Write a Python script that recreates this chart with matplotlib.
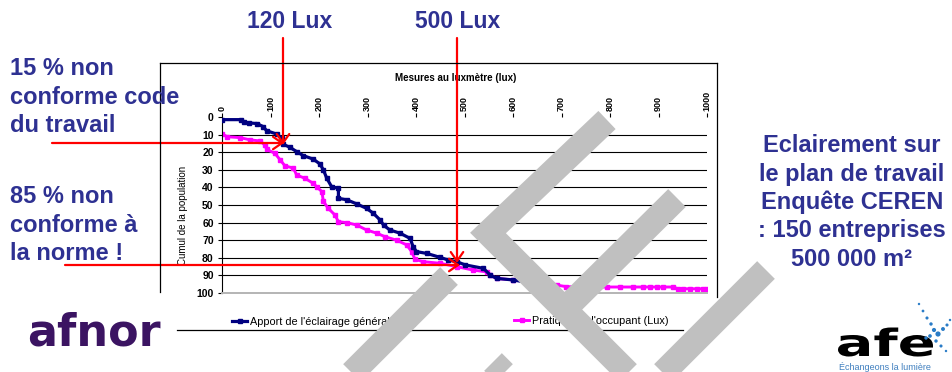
import matplotlib

matplotlib.use("Agg")
import matplotlib.pyplot as plt
from matplotlib.font_manager import FontProperties
from matplotlib.patches import FancyArrowPatch, PathPatch
from matplotlib.textpath import TextPath
from matplotlib.transforms import Affine2D

# Survey data: illuminance (lux) vs. cumulative share of the population (%)
BLUE_LUX = [0, 40, 46, 56, 72, 85, 92, 113, 123, 126, 140, 154, 168, 188, 202,
            209, 216, 226, 240, 240, 257, 278, 298, 312, 326, 333, 346, 367,
            388, 394, 401, 422, 449, 467, 484, 501, 539, 553, 566, 601, 630]
BLUE_PCT = [1.5, 1.5, 2.8, 3.4, 3.7, 5.5, 7.8, 9.7, 12.0, 15.5, 17.2, 19.7, 22.0,
            23.9, 26.7, 30.0, 34.8, 39.6, 40.5, 46.2, 47.0, 49.4, 51.9, 54.7,
            58.5, 61.4, 64.2, 66.0, 69.0, 73.7, 76.5, 77.5, 79.7, 81.3, 82.2,
            84.0, 86.0, 89.8, 91.7, 92.6, 94.0]

MAG_LUX = [0, 10, 37, 58, 78, 89, 92, 109, 120, 130, 147, 154, 171, 188, 195,
           206, 209, 219, 233, 240, 257, 278, 298, 319, 336, 360, 381, 391, 398,
           415, 449, 484, 518, 546, 553, 566, 601, 630, 660, 690, 710, 745, 793,
           820, 848, 868, 882, 897, 910, 930, 940, 951, 965, 979, 992, 1000]
MAG_PCT = [9.5, 11.2, 11.7, 13.0, 13.6, 16.0, 18.4, 20.6, 24.4, 27.8, 29.0, 33.0,
           34.8, 37.7, 39.6, 42.4, 48.0, 51.9, 55.7, 59.5, 60.0, 61.4, 64.2,
           66.0, 68.0, 70.0, 72.7, 76.5, 80.9, 82.2, 83.1, 85.0, 87.0, 88.0,
           89.8, 91.7, 92.6, 93.5, 94.5, 95.5, 96.4, 96.6, 96.6, 96.6, 96.6,
           96.6, 96.6, 96.6, 96.6, 96.6, 97.6, 97.6, 97.6, 97.6, 97.6, 97.6]

SERIES_NAMES = ["Apport de l'éclairage général (Lux)", "Pratique de l'occupant (Lux)"]
X_TICKS = list(range(0, 1001, 100))
Y_TICKS = list(range(0, 101, 10))

LEFT_NOTE_TOP = ["15 % non", "conforme code", "du travail"]
LEFT_NOTE_BOTTOM = ["85 % non", "conforme à", "la norme !"]
RIGHT_NOTE = ["Eclairement sur", "le plan de travail", "Enquête CEREN",
              ": 150 entreprises", "500 000 m²"]
THRESHOLD_LABELS = ["120 Lux", "500 Lux"]

W, H = 953, 372
TEXT_BLUE = "#2e3192"

plt.rcParams["font.family"] = ["Liberation Sans", "DejaVu Sans"]

fig = plt.figure(figsize=(W / 100, H / 100), dpi=100)
fig.patch.set_facecolor("white")


def px_box(left, top, right, bottom):
    """Axes rectangle from pixel edges (origin top-left)."""
    return [left / W, 1 - bottom / H, (right - left) / W, (bottom - top) / H]


# --- Excel-style chart -------------------------------------------------------
ax = fig.add_axes(px_box(222, 117, 707, 293))
blue_line, = ax.plot(BLUE_LUX, BLUE_PCT, color="#000080", lw=2.3, marker="s",
                     ms=2.2, zorder=3)
mag_line, = ax.plot(MAG_LUX, MAG_PCT, color="#ff00ff", lw=2.1, marker="s",
                    ms=2.6, zorder=2)

ax.set_xlim(0, 1000)
ax.set_ylim(100, 0)
ax.set_xticks(X_TICKS)
ax.set_yticks(Y_TICKS)
ax.xaxis.tick_top()
ax.tick_params(axis="x", labelrotation=90, length=3, width=0.8, pad=1.5,
               labelsize=6.5)
ax.tick_params(axis="y", length=3, width=0.8, pad=3, labelsize=7.5)
for lbl in ax.get_xticklabels() + ax.get_yticklabels():
    lbl.set_fontweight("bold")

ax.yaxis.grid(True, color="black", lw=0.8)
grid = ax.yaxis.get_gridlines()
grid[0].set_visible(False)
grid[-1].set_visible(False)
ax.set_axisbelow(True)

ax.spines["top"].set_visible(False)
ax.spines["right"].set_visible(False)
ax.spines["left"].set_linewidth(0.8)
ax.spines["bottom"].set_color("#b4b4b4")
ax.spines["bottom"].set_linewidth(1.4)

ax.set_ylabel("Cumul de la population", fontsize=7)
ax.yaxis.set_label_coords(-0.07, 0.44)
ax.set_xlabel("Mesures au luxmètre (lux)", fontsize=7, fontweight="bold")
ax.xaxis.set_label_position("top")
ax.xaxis.set_label_coords(0.482, 1.205)

leg_kw = dict(loc="center left", bbox_transform=fig.transFigure, frameon=False,
              fontsize=7.8, handlelength=1.4, handletextpad=0.3, borderpad=0,
              borderaxespad=0)
leg1 = ax.legend([blue_line], [SERIES_NAMES[0]],
                 bbox_to_anchor=(232 / W, 1 - 322 / H), **leg_kw)
ax.add_artist(leg1)
ax.legend([mag_line], [SERIES_NAMES[1]],
          bbox_to_anchor=(514 / W, 1 - 321 / H), **leg_kw)

# --- slide layer in pixel coordinates ----------------------------------------
ov = fig.add_axes([0, 0, 1, 1])
ov.set_xlim(0, W)
ov.set_ylim(H, 0)
ov.axis("off")
ov.set_zorder(5)

# pasted chart frame (partly cropped on the slide)
for xs, ys in [([160, 717], [63, 63]), ([160, 160], [63, 292]),
               ([717, 717], [63, 297]), ([177, 683], [330, 330])]:
    ov.plot(xs, ys, color="black", lw=0.9)

title_kw = dict(fontsize=17, fontweight="bold", color=TEXT_BLUE, va="baseline")
ov.text(290, 28, THRESHOLD_LABELS[0], ha="center", fontsize=16.5,
        fontweight="bold", color=TEXT_BLUE, va="baseline")
ov.text(458, 28, THRESHOLD_LABELS[1], ha="center", fontsize=16.5,
        fontweight="bold", color=TEXT_BLUE, va="baseline")
for i, line in enumerate(LEFT_NOTE_TOP):
    ov.text(10, 75 + 28.5 * i, line, ha="left", **title_kw)
for i, line in enumerate(LEFT_NOTE_BOTTOM):
    ov.text(10, 203 + 28.5 * i, line, ha="left", **title_kw)
for i, line in enumerate(RIGHT_NOTE):
    ov.text(852, 152 + 28.5 * i, line, ha="center", **title_kw)

# red pointers: 120 lux / 15 % and 500 lux / 85 %
arrows = [((283, 38), (283, 145)), ((52, 143), (284, 143)),
          ((457, 38), (457, 263)), ((65, 265), (460, 265))]
for start, end in arrows:
    ov.add_patch(FancyArrowPatch(start, end, arrowstyle="->,head_length=0.65,head_width=0.45",
                                 mutation_scale=10, color="red", lw=1.6,
                                 shrinkA=0, shrinkB=0))

# afnor logo
ov.text(27, 345, "afnor", fontsize=32, fontweight="bold", color="#3b1462",
        family="DejaVu Sans", va="baseline", ha="left")

# afe logo: wide lettering, blue sparkle and tagline
tp = TextPath((0, 0), "afe", size=1,
              prop=FontProperties(family="DejaVu Sans", weight="bold"))
ext = tp.get_extents()
sx = 95 / ext.width
sy = 21 / 0.56
logo_tf = Affine2D().scale(sx, -sy).translate(838 - ext.x0 * sx, 356) + ov.transData
ov.add_patch(PathPatch(tp, facecolor="black", edgecolor="none", transform=logo_tf))
spark_x = [919, 923, 927, 931, 934, 938, 943, 947, 936, 941, 946, 926, 930, 950]
spark_y = [304, 311, 318, 324, 330, 334, 329, 325, 341, 346, 351, 338, 336, 320]
spark_s = [3, 4, 5, 6, 9, 14, 8, 5, 6, 5, 3, 6, 7, 3]
ov.scatter(spark_x, spark_y, s=spark_s, color="#2a7cc7", lw=0)
ov.text(885, 367, "Échangeons la lumière", fontsize=6.5, color="#3f7fbf",
        ha="center", va="center")

# grey diagonal watermark bands on top
bands = [
    ([449, 335], [276, 390]),
    ([607, 488, 645], [120, 233, 390]),
    ([677, 563], [198, 311]),
    ([766, 645], [270, 391]),
    ([493, 530], [362, 399]),
]
for xs, ys in bands:
    ov.plot(xs, ys, color="#c0c0c0", lw=18, solid_capstyle="butt",
            solid_joinstyle="miter", zorder=20)

fig.savefig("out.png", dpi=100, facecolor="white")
